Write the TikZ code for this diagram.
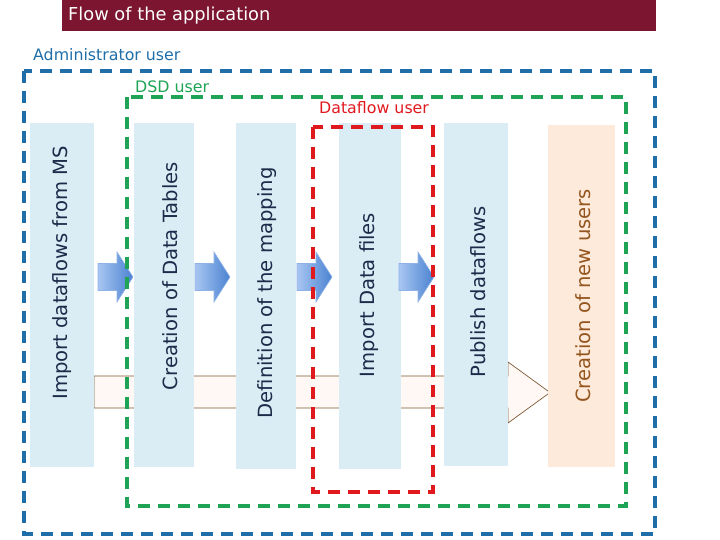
\documentclass[tikz,border=0pt]{standalone}
\usepackage{fontspec}
\setmainfont{DejaVu Sans}
\definecolor{titlebg}{HTML}{7B1530}
\definecolor{adminblue}{HTML}{1F6EA8}
\definecolor{dsdgreen}{HTML}{1FA355}
\definecolor{flowred}{HTML}{E0191F}
\definecolor{colblue}{HTML}{DAEDF4}
\definecolor{colpeach}{HTML}{FDEADA}
\definecolor{coltextc}{HTML}{1C2B4A}
\definecolor{browntext}{HTML}{94561E}
\definecolor{longfill}{HTML}{FFF8F4}
\definecolor{longedge}{HTML}{7F5A36}
\definecolor{arrlight}{HTML}{A8C6F2}
\definecolor{arrdark}{HTML}{4A82D0}
\definecolor{arredge}{HTML}{8FB2E6}
\begin{document}
\begin{tikzpicture}[x=1pt,y=-1pt,
  colbox/.style={fill=colblue, draw=none, inner sep=0pt, anchor=north west},
  peachbox/.style={fill=colpeach, draw=none, inner sep=0pt, anchor=north west},
  coltext/.style={rotate=90, inner sep=0pt, text=coltextc, font=\fontsize{19.6}{22}\selectfont},
  userlabel/.style={anchor=west, inner sep=0pt, font=\fontsize{15.8}{18}\selectfont},
  dashbox/.style={line width=4pt, dash pattern=on 12pt off 8pt},
  blockarrow/.pic={
    \path[draw=arredge, line width=0.6pt, left color=arrlight, right color=arrdark]
      (0,-13.5) -- (19,-13.5) -- (19,-25) -- (35,0) -- (19,25) -- (19,13.5) -- (0,13.5) -- cycle;
  }]
\useasboundingbox (0,0) rectangle (720,540);
% title
\node[fill=titlebg, minimum width=594pt, minimum height=31pt, inner sep=0pt, anchor=north west] (title) at (62,0) {};
\node[anchor=west, inner sep=0pt, text=white, font=\fontsize{17.8}{21}\selectfont] (titletext) at (68,15.5) {Flow of the application};
% long background arrow
\path[draw=longedge, line width=0.7pt, fill=longfill]
  (94,376) -- (508,376) -- (508,362) -- (550,392.5) -- (508,423) -- (508,408) -- (94,408) -- cycle;
% columns
\node[colbox, minimum width=64pt, minimum height=344pt] (c1) at (30,123) {};
\node[colbox, minimum width=60pt, minimum height=344pt] (c2) at (134,123) {};
\node[colbox, minimum width=60pt, minimum height=346pt] (c3) at (236,123) {};
\node[colbox, minimum width=62pt, minimum height=346pt] (c4) at (339,123) {};
\node[colbox, minimum width=64pt, minimum height=343pt] (c5) at (444,123) {};
\node[peachbox, minimum width=67pt, minimum height=342pt] (c6) at (548,125) {};
% column texts
\node[coltext] (t1) at (62,273) {Import dataflows from MS};
\node[coltext] (t2) at (170,276) {Creation of Data Tables};
\node[coltext] (t3) at (267,293) {Definition of the mapping};
\node[coltext] (t4) at (369,295) {Import Data files};
\node[coltext] (t5) at (478,292) {Publish dataflows};
\node[coltext, text=browntext] (t6) at (583,296) {Creation of new users};
% step arrows
\pic at (98,277) {blockarrow};
\pic at (195,277) {blockarrow};
\pic at (297,277) {blockarrow};
\pic at (399,277) {blockarrow};
% user boxes
\draw[dashbox, draw=adminblue] (24,71) rectangle (655,534);
\draw[dashbox, draw=dsdgreen] (127,97) rectangle (626,506);
\draw[dashbox, draw=flowred] (313,127) rectangle (433,492);
% labels
\node[userlabel, text=adminblue] (ladmin) at (33,55) {Administrator user};
\node[userlabel, text=dsdgreen] (ldsd) at (135,87) {DSD user};
\node[userlabel, text=flowred] (lflow) at (319,108) {Dataflow user};
\end{tikzpicture}
\end{document}
